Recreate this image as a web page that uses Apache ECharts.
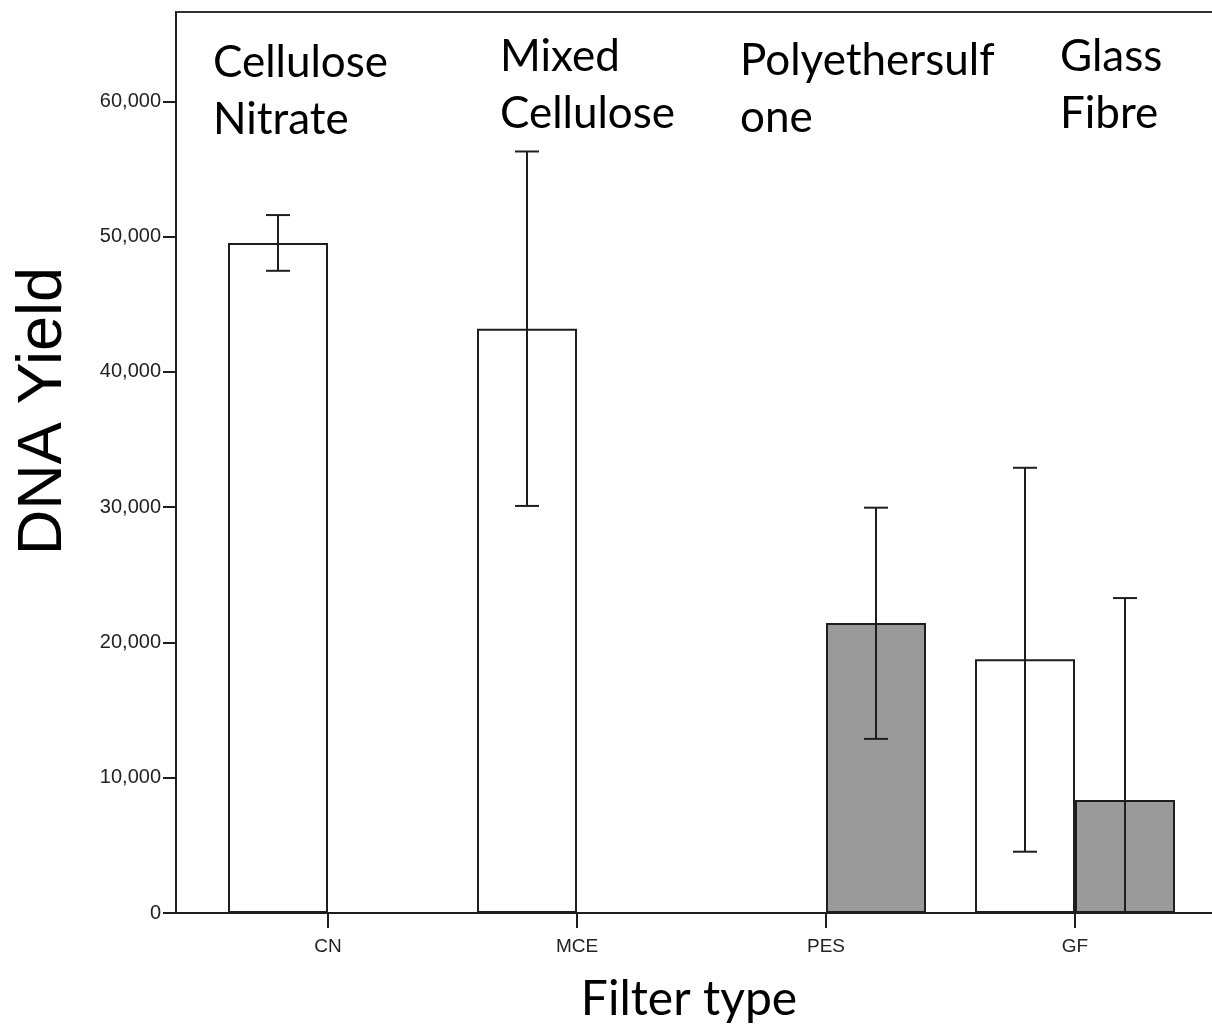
<!DOCTYPE html>
<html>
<head>
<meta charset="utf-8">
<script src="https://cdn.jsdelivr.net/npm/echarts@6/dist/echarts.min.js"></script>
<style>
  html, body { margin: 0; padding: 0; background: #fff; }
  #chart { width: 1212px; height: 1025px; }
</style>
</head>
<body>
<div id="chart"></div>
<script>
// filter types
var categories = ['CN', 'MCE', 'PES', 'GF'];
var filterNames = ['Cellulose\nNitrate', 'Mixed\nCellulose', 'Polyethersulf\none', 'Glass\nFibre'];

// white bars (first group) and grey bars (second group), with error limits
var whiteMean = [49530, 43190, null, 18760];
var whiteLow  = [47470, 30090, null, 4530];
var whiteHigh = [51590, 56290, null, 32910];
var greyMean  = [null, null, 21430, 8360];
var greyLow   = [null, null, 12870, -6560];
var greyHigh  = [null, null, 29960, 23280];

var yTicks = [0, 10000, 20000, 30000, 40000, 50000, 60000];
var yMax = 66600;

var BAR_W = 100;
var INK = '#1e1e1e';

function errData(low, high, side) {
    var out = [];
    for (var i = 0; i < categories.length; i++) {
        if (low[i] == null) continue;
        out.push([i, low[i], high[i], side]);
    }
    return out;
}
var errorBars = errData(whiteLow, whiteHigh, -1).concat(errData(greyLow, greyHigh, 1));

function renderError(params, api) {
    var cat = api.value(0), lo = api.value(1), hi = api.value(2), side = api.value(3);
    var x = api.coord([cat, 0])[0] + side * BAR_W / 2;
    var yLo = api.coord([cat, Math.max(lo, 0)])[1];
    var yHi = api.coord([cat, hi])[1];
    var st = { stroke: INK, lineWidth: 2 };
    var kids = [
        { type: 'line', shape: { x1: x, y1: yLo, x2: x, y2: yHi }, style: st },
        { type: 'line', shape: { x1: x - 12, y1: yHi, x2: x + 12, y2: yHi }, style: st }
    ];
    if (lo >= 0) {
        kids.push({ type: 'line', shape: { x1: x - 12, y1: yLo, x2: x + 12, y2: yLo }, style: st });
    }
    return { type: 'group', children: kids };
}

var labelPos = [[213, 34], [500, 28], [740, 32], [1060, 28]];
var graphics = filterNames.map(function (t, i) {
    return {
        type: 'text', left: labelPos[i][0], top: labelPos[i][1],
        style: { text: t, font: '44px Lato', lineHeight: 57, fill: '#000' }
    };
});
graphics.push({
    type: 'text', x: 44, y: 411, rotation: Math.PI / 2,
    style: { text: 'DNA Yield', font: '63px "Liberation Sans"', fill: '#000',
             align: 'center', verticalAlign: 'middle' }
});
graphics.push({
    type: 'text', x: 689, y: 1000,
    style: { text: 'Filter type', font: '48px Lato', fill: '#000',
             align: 'center', verticalAlign: 'middle' }
});

var option = {
    animation: false,
    backgroundColor: '#fff',
    grid: [
        { left: 176, width: 1080, top: 12, bottom: 112, show: true,
          outerBoundsMode: 'none', containLabel: false,
          borderColor: '#333', borderWidth: 2 },
        { left: 203.5, width: 996, top: 12, bottom: 112,
          outerBoundsMode: 'none', containLabel: false }
    ],
    xAxis: [
        { gridIndex: 0, type: 'value', min: 0, max: 1,
          axisLine: { show: true, lineStyle: { color: INK, width: 2 } },
          axisTick: { show: false }, axisLabel: { show: false }, splitLine: { show: false } },
        { gridIndex: 1, type: 'category', data: categories,
          axisLine: { show: false },
          axisTick: { show: true, alignWithLabel: true, length: 15,
                      lineStyle: { color: INK, width: 2 } },
          axisLabel: { margin: 24, fontSize: 19, color: '#222', fontFamily: 'Liberation Sans' } }
    ],
    yAxis: [
        { gridIndex: 0, type: 'value', min: 0, max: yMax,
          axisLine: { show: true, lineStyle: { color: INK, width: 2 } },
          axisTick: { show: true, length: 13, customValues: yTicks,
                      lineStyle: { color: INK, width: 2 } },
          axisLabel: { customValues: yTicks, margin: 15, fontSize: 20, color: '#222',
                       fontFamily: 'Liberation Sans',
                       formatter: function (v) { return v.toLocaleString('en-US'); } },
          splitLine: { show: false } },
        { gridIndex: 1, type: 'value', min: 0, max: yMax, show: false }
    ],
    series: [
        { type: 'bar', xAxisIndex: 1, yAxisIndex: 1, data: whiteMean,
          barWidth: BAR_W, barGap: '0%',
          itemStyle: { color: '#fff', borderColor: INK, borderWidth: 2 } },
        { type: 'bar', xAxisIndex: 1, yAxisIndex: 1, data: greyMean,
          barWidth: BAR_W, barGap: '0%',
          itemStyle: { color: '#9a9a9a', borderColor: INK, borderWidth: 2 } },
        { type: 'custom', xAxisIndex: 1, yAxisIndex: 1, data: errorBars,
          renderItem: renderError, encode: { x: 0, y: [1, 2] }, z: 5 }
    ],
    graphic: graphics
};

var myChart = echarts.init(document.getElementById('chart'));
myChart.setOption(option);
</script>
</body>
</html>
